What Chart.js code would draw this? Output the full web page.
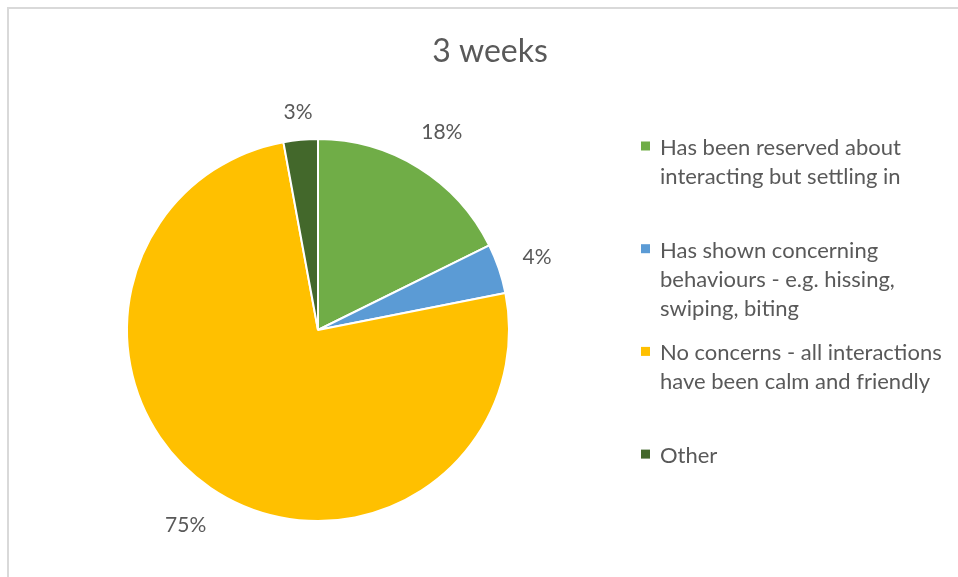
<!DOCTYPE html>
<html><head><meta charset="utf-8">
<script src="https://cdn.jsdelivr.net/npm/chart.js@4/dist/chart.umd.min.js"></script>
<style>html,body{margin:0;padding:0;background:#fff}#wrap{width:958px;height:577px;position:relative}</style>
</head><body><div id="wrap"><canvas id="c" width="958" height="577"></canvas></div>
<script>
const chartTitle = '3 weeks';
const categories = [
  'Has been reserved about interacting but settling in',
  'Has shown concerning behaviours - e.g. hissing, swiping, biting',
  'No concerns - all interactions have been calm and friendly',
  'Other'
];
const values = [17.7, 4.2, 75.2, 2.9];
const colors = ['#70AD47', '#5B9BD5', '#FFC000', '#43682B'];

const FONT = 'Lato, "Open Sans", sans-serif';
const TEXT = '#595959';

function wrap(ctx, text, maxW) {
  const words = text.split(' ');
  const lines = [];
  let cur = '';
  for (const w of words) {
    const t = cur ? cur + ' ' + w : w;
    if (ctx.measureText(t).width > maxW && cur) { lines.push(cur); cur = w; }
    else cur = t;
  }
  if (cur) lines.push(cur);
  return lines;
}

const decor = {
  id: 'decor',
  beforeDraw(chart) {
    const ctx = chart.ctx;
    ctx.save();
    ctx.strokeStyle = '#d9d9d9';
    ctx.lineWidth = 2;
    ctx.strokeRect(8, 8, 2000, 2000);
    ctx.restore();
  },
  afterDatasetsDraw(chart) {
    const ctx = chart.ctx;
    ctx.save();
    // title
    ctx.fillStyle = TEXT;
    ctx.font = '32px ' + FONT;
    ctx.textAlign = 'center';
    ctx.textBaseline = 'alphabetic';
    ctx.fillText(chartTitle, 490, 62);

    // data labels
    const meta = chart.getDatasetMeta(0);
    const data = chart.data.datasets[0].data;
    const total = data.reduce((a, b) => a + b, 0);
    ctx.font = '21px ' + FONT;
    ctx.textBaseline = 'middle';
    meta.data.forEach((arc, i) => {
      const p = arc.getProps(['x', 'y', 'startAngle', 'endAngle', 'outerRadius'], true);
      const mid = (p.startAngle + p.endAngle) / 2;
      const ux = Math.cos(mid), uy = Math.sin(mid);
      const txt = Math.round(data[i] / total * 100) + '%';
      const hw = ctx.measureText(txt).width / 2 + 4;
      const hh = 11;
      const d = p.outerRadius + 15 + Math.abs(ux) * hw + Math.abs(uy) * hh + 14 * Math.abs(ux * uy);
      ctx.fillText(txt, p.x + ux * d, p.y + uy * d + 1);
    });

    // legend
    ctx.font = '22px ' + FONT;
    ctx.textAlign = 'left';
    ctx.textBaseline = 'alphabetic';
    const x0 = 641, tx = 660, y0 = 155, pitch = 102.7, lh = 29;
    categories.forEach((c, i) => {
      const by = y0 + i * pitch;
      ctx.fillStyle = colors[i];
      ctx.fillRect(x0, by - 13.5, 9, 9);
      ctx.fillStyle = TEXT;
      wrap(ctx, c, 292).forEach((ln, j) => ctx.fillText(ln, tx, by + j * lh));
    });
    ctx.restore();
  }
};

new Chart(document.getElementById('c'), {
  type: 'pie',
  data: {
    labels: categories,
    datasets: [{
      data: values,
      backgroundColor: colors,
      borderColor: '#ffffff',
      borderWidth: 2
    }]
  },
  options: {
    responsive: false,
    animation: false,
    layout: { padding: { left: 126, right: 448, top: 138, bottom: 55 } },
    plugins: { legend: { display: false }, title: { display: false }, tooltip: { enabled: false } }
  },
  plugins: [decor]
});
</script></body></html>
